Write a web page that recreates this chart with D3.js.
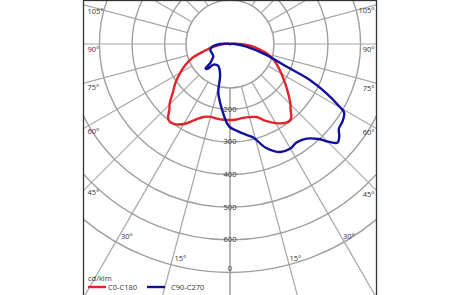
<!DOCTYPE html>
<html><head><meta charset="utf-8">
<script src="https://cdn.jsdelivr.net/npm/d3@7"></script>
<style>body{margin:0;background:#fff}svg{display:block}text{font-family:"Open Sans",Arial,sans-serif}</style>
</head><body><svg id="c" width="460" height="295"></svg>
<script>
// ---- data ----
const ringValues = [200, 300, 400, 500, 600, 700];
const ringLabels = ["200", "300", "400", "500", "600", "0"];
const spokeAngles = [0, 15, 30, 45, 60, 75, 90, 105, 120, 135, 150, 165, 180];
const angleLabels = ["15°", "30°", "45°", "60°", "75°", "90°", "105°"];
const angleLabelValues = [15, 30, 45, 60, 75, 90, 105];
const seriesNames = ["C0-C180", "C90-C270"];
const unitLabel = "cd/klm";
// C0 (right half), C180 (left half): gamma angles in degrees, values cd/klm
const c0Gamma   = [0, 5, 10, 15, 20, 25, 30, 35, 38, 40, 43, 45, 50, 55, 60, 65, 70, 75, 80, 85, 90, 100, 180];
const c0Val     = [233, 232, 230, 232, 238, 260, 280, 295, 298, 292, 272, 262, 232, 205, 182, 162, 143, 120, 90, 62, 30, 5, 0];
const c180Gamma = [0, 5, 10, 15, 20, 25, 30, 35, 38, 40, 43, 45, 50, 55, 60, 65, 70, 75, 80, 85, 90, 100, 180];
const c180Val   = [233, 233, 232, 231, 238, 257, 283, 299, 301, 295, 272, 262, 228, 203, 176, 150, 121, 80, 55, 35, 20, 5, 0];
// C90 (right half), C270 (left half)
const c90Gamma  = [0, 5, 10, 14, 19, 25, 30, 34, 39, 43, 45.4, 47.5, 50, 52, 55.6, 59, 60.3, 63, 65.8, 68.2, 73.3, 80.8, 90, 100, 180];
const c90Val    = [255, 268, 282, 295, 336, 365, 370, 364, 373, 398, 427, 447, 437, 423, 418, 408, 385, 330, 267, 186, 116, 51, 15, 0, 0];
const c270Gamma = [0, 2.4, 7, 13.4, 17, 22, 27, 33, 38.5, 42.6, 45, 46, 50, 53, 60, 73, 80, 90, 100, 180];
const c270Val   = [255, 241, 202, 154, 104, 85, 77, 76, 81, 104, 106, 85, 70, 64, 62, 63, 57, 30, 5, 0];

// ---- layout ----
const svg = d3.select("#c");
const cx = 230, cy = 44;
const frame = {x: 83.5, y: 0.5, w: 293, h: 310};
const hubR = 44;
const r = d3.scaleLinear().domain([0, 700]).range([0, 228.5]);
const rad = d => d * Math.PI / 180;

svg.append("defs").append("clipPath").attr("id", "fc")
  .append("rect").attr("x", frame.x).attr("y", frame.y).attr("width", frame.w).attr("height", frame.h);

const g = svg.append("g").attr("clip-path", "url(#fc)");
const grid = g.append("g").attr("transform", `translate(${cx},${cy})`);

// spokes (gamma measured from straight down)
spokeAngles.forEach(a => {
  [1, -1].forEach(s => {
    const dx = s * Math.sin(rad(a)), dy = Math.cos(rad(a));
    grid.append("line")
      .attr("x1", dx * hubR).attr("y1", dy * hubR)
      .attr("x2", dx * 500).attr("y2", dy * 500)
      .attr("stroke", "#a6a6a6").attr("stroke-width", 1.2);
  });
});
// rings
grid.append("circle").attr("r", hubR).attr("fill", "none").attr("stroke", "#a0a0a0").attr("stroke-width", 1.4);
ringValues.forEach(v => {
  grid.append("circle").attr("r", r(v)).attr("fill", "none").attr("stroke", "#a0a0a0").attr("stroke-width", 1.4);
});
// ring labels
ringValues.forEach((v, i) => {
  grid.append("text").attr("x", 0).attr("y", r(v) + (i === ringValues.length - 1 ? -2 : 2.5)).attr("text-anchor", "middle")
    .attr("font-size", 7.5).attr("fill", "#333").text(ringLabels[i]);
});

// curves
function halfPts(gam, val, side) {
  return gam.map((a, i) => [side > 0 ? Math.PI - rad(a) : Math.PI + rad(a), r(val[i])]);
}
function closedPts(gR, vR, gL, vL) {
  const right = halfPts(gR, vR, 1);            // from 0 down to 180
  const left = halfPts(gL, vL, -1).reverse();  // from 180 back to 0
  return right.concat(left.slice(1, -1));
}
const line = d3.lineRadial().angle(d => d[0]).radius(d => d[1]).curve(d3.curveCatmullRomClosed.alpha(0.5));
const colors = ["#e3232b", "#10109c"];
grid.append("path").attr("d", line(closedPts(c0Gamma, c0Val, c180Gamma, c180Val)))
  .attr("fill", "none").attr("stroke", colors[0]).attr("stroke-width", 2.4).attr("stroke-linejoin", "round");
grid.append("path").attr("d", line(closedPts(c90Gamma, c90Val, c270Gamma, c270Val)))
  .attr("fill", "none").attr("stroke", colors[1]).attr("stroke-width", 2.4).attr("stroke-linejoin", "round");

// angle labels
const lx = frame.x + 4, rx = frame.x + frame.w - 2;
angleLabelValues.forEach((a, i) => {
  const t = rad(a);
  if (a <= 30) {
    const rr = 222;
    [1, -1].forEach(s => {
      const x = cx + s * Math.sin(t) * rr, y = cy + Math.cos(t) * rr;
      g.append("text").attr("x", x + 2).attr("y", y + 3).attr("font-size", 7.5).attr("fill", "#333").text(angleLabels[i]);
    });
  } else {
    const yl = cy + (cx - lx) / Math.tan(t);
    g.append("text").attr("x", lx).attr("y", yl + 8).attr("font-size", 7.5).attr("fill", "#333").text(angleLabels[i]);
    const yr = cy + (rx - cx) / Math.tan(t);
    g.append("text").attr("x", rx).attr("y", yr + 8).attr("text-anchor", "end").attr("font-size", 7.5).attr("fill", "#333").text(angleLabels[i]);
  }
});

// frame
svg.append("rect").attr("x", frame.x).attr("y", frame.y).attr("width", frame.w).attr("height", frame.h)
  .attr("fill", "none").attr("stroke", "#333").attr("stroke-width", 1.3);

// legend
const lg = svg.append("g");
lg.append("text").attr("x", 88).attr("y", 281).attr("font-size", 7.5).attr("fill", "#333").text(unitLabel);
[[88, 108], [147, 171]].forEach((p, i) => {
  lg.append("line").attr("x1", p[0]).attr("x2", p[0] + 18).attr("y1", 287).attr("y2", 287)
    .attr("stroke", colors[i]).attr("stroke-width", 2.4);
  lg.append("text").attr("x", p[1]).attr("y", 290).attr("font-size", 7.5).attr("fill", "#333").text(seriesNames[i]);
});
</script></body></html>
